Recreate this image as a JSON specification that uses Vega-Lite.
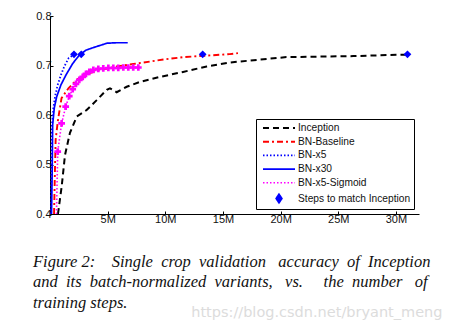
{
  "$schema": "https://vega.github.io/schema/vega-lite/v6.json",
  "width": 369,
  "height": 198,
  "autosize": {"type": "none"},
  "padding": {"left": 50, "top": 16, "right": 32, "bottom": 114},
  "background": "white",
  "title": {
    "text": ["Figure 2:\u00a0\u00a0\u00a0\u00a0Single\u00a0\u00a0crop\u00a0\u00a0validation\u00a0\u00a0\u00a0accuracy\u00a0\u00a0of\u00a0\u00a0Inception", "and\u00a0\u00a0its\u00a0\u00a0batch-normalized\u00a0\u00a0variants,\u00a0\u00a0\u00a0vs.\u00a0\u00a0\u00a0\u00a0\u00a0the\u00a0\u00a0number\u00a0\u00a0\u00a0of", "training steps."],
    "orient": "bottom",
    "anchor": "start",
    "frame": "group",
    "font": "Liberation Serif",
    "fontStyle": "italic",
    "fontWeight": "normal",
    "fontSize": 16.5,
    "lineHeight": 20.5,
    "color": "#111111",
    "dx": -17,
    "offset": -65
  },
  "datasets": {
    "curves": [
      {"series": "Inception", "x": 0.69, "y": 0.40},
      {"series": "Inception", "x": 1.01, "y": 0.455},
      {"series": "Inception", "x": 1.30, "y": 0.519},
      {"series": "Inception", "x": 1.73, "y": 0.564},
      {"series": "Inception", "x": 2.32, "y": 0.597},
      {"series": "Inception", "x": 3.18, "y": 0.610},
      {"series": "Inception", "x": 4.05, "y": 0.630},
      {"series": "Inception", "x": 4.92, "y": 0.651},
      {"series": "Inception", "x": 5.20, "y": 0.654},
      {"series": "Inception", "x": 5.78, "y": 0.646},
      {"series": "Inception", "x": 6.65, "y": 0.657},
      {"series": "Inception", "x": 7.81, "y": 0.667},
      {"series": "Inception", "x": 9.54, "y": 0.677},
      {"series": "Inception", "x": 11.54, "y": 0.687},
      {"series": "Inception", "x": 13.59, "y": 0.698},
      {"series": "Inception", "x": 15.61, "y": 0.706},
      {"series": "Inception", "x": 18.2, "y": 0.712},
      {"series": "Inception", "x": 20.5, "y": 0.717},
      {"series": "Inception", "x": 23.4, "y": 0.718},
      {"series": "Inception", "x": 26.3, "y": 0.719},
      {"series": "Inception", "x": 29.2, "y": 0.721},
      {"series": "Inception", "x": 31.0, "y": 0.722},
      {"series": "BN-Baseline", "x": 0.35, "y": 0.40},
      {"series": "BN-Baseline", "x": 0.43, "y": 0.489},
      {"series": "BN-Baseline", "x": 0.49, "y": 0.55},
      {"series": "BN-Baseline", "x": 0.67, "y": 0.586},
      {"series": "BN-Baseline", "x": 0.81, "y": 0.607},
      {"series": "BN-Baseline", "x": 1.0, "y": 0.634},
      {"series": "BN-Baseline", "x": 1.6, "y": 0.654},
      {"series": "BN-Baseline", "x": 2.32, "y": 0.671},
      {"series": "BN-Baseline", "x": 3.18, "y": 0.683},
      {"series": "BN-Baseline", "x": 4.34, "y": 0.691},
      {"series": "BN-Baseline", "x": 5.78, "y": 0.698},
      {"series": "BN-Baseline", "x": 7.23, "y": 0.703},
      {"series": "BN-Baseline", "x": 8.67, "y": 0.708},
      {"series": "BN-Baseline", "x": 9.83, "y": 0.712},
      {"series": "BN-Baseline", "x": 11.56, "y": 0.717},
      {"series": "BN-Baseline", "x": 13.59, "y": 0.720},
      {"series": "BN-Baseline", "x": 15.6, "y": 0.723},
      {"series": "BN-Baseline", "x": 16.3, "y": 0.725},
      {"series": "BN-x5", "x": 0.09, "y": 0.40},
      {"series": "BN-x5", "x": 0.13, "y": 0.489},
      {"series": "BN-x5", "x": 0.17, "y": 0.580},
      {"series": "BN-x5", "x": 0.29, "y": 0.614},
      {"series": "BN-x5", "x": 0.46, "y": 0.640},
      {"series": "BN-x5", "x": 0.67, "y": 0.661},
      {"series": "BN-x5", "x": 0.95, "y": 0.681},
      {"series": "BN-x5", "x": 1.24, "y": 0.698},
      {"series": "BN-x5", "x": 1.62, "y": 0.715},
      {"series": "BN-x5", "x": 2.08, "y": 0.722},
      {"series": "BN-x30", "x": 0.13, "y": 0.40},
      {"series": "BN-x30", "x": 0.19, "y": 0.489},
      {"series": "BN-x30", "x": 0.23, "y": 0.580},
      {"series": "BN-x30", "x": 0.37, "y": 0.614},
      {"series": "BN-x30", "x": 0.58, "y": 0.637},
      {"series": "BN-x30", "x": 0.95, "y": 0.661},
      {"series": "BN-x30", "x": 1.39, "y": 0.681},
      {"series": "BN-x30", "x": 1.97, "y": 0.704},
      {"series": "BN-x30", "x": 2.54, "y": 0.721},
      {"series": "BN-x30", "x": 3.12, "y": 0.731},
      {"series": "BN-x30", "x": 3.99, "y": 0.738},
      {"series": "BN-x30", "x": 4.68, "y": 0.743},
      {"series": "BN-x30", "x": 4.92, "y": 0.745},
      {"series": "BN-x30", "x": 5.78, "y": 0.746},
      {"series": "BN-x30", "x": 6.74, "y": 0.746},
      {"series": "BN-x5-Sigmoid", "x": 0.56, "y": 0.40},
      {"series": "BN-x5-Sigmoid", "x": 0.62, "y": 0.47},
      {"series": "BN-x5-Sigmoid", "x": 0.67, "y": 0.526},
      {"series": "BN-x5-Sigmoid", "x": 1.01, "y": 0.583},
      {"series": "BN-x5-Sigmoid", "x": 1.36, "y": 0.617},
      {"series": "BN-x5-Sigmoid", "x": 1.67, "y": 0.638},
      {"series": "BN-x5-Sigmoid", "x": 1.97, "y": 0.652},
      {"series": "BN-x5-Sigmoid", "x": 2.25, "y": 0.663},
      {"series": "BN-x5-Sigmoid", "x": 2.54, "y": 0.671},
      {"series": "BN-x5-Sigmoid", "x": 2.84, "y": 0.677},
      {"series": "BN-x5-Sigmoid", "x": 3.12, "y": 0.683},
      {"series": "BN-x5-Sigmoid", "x": 3.41, "y": 0.687},
      {"series": "BN-x5-Sigmoid", "x": 3.76, "y": 0.691},
      {"series": "BN-x5-Sigmoid", "x": 4.19, "y": 0.693},
      {"series": "BN-x5-Sigmoid", "x": 4.62, "y": 0.694},
      {"series": "BN-x5-Sigmoid", "x": 5.06, "y": 0.695},
      {"series": "BN-x5-Sigmoid", "x": 5.49, "y": 0.695},
      {"series": "BN-x5-Sigmoid", "x": 5.92, "y": 0.695},
      {"series": "BN-x5-Sigmoid", "x": 6.36, "y": 0.696},
      {"series": "BN-x5-Sigmoid", "x": 6.79, "y": 0.696},
      {"series": "BN-x5-Sigmoid", "x": 7.22, "y": 0.696},
      {"series": "BN-x5-Sigmoid", "x": 7.66, "y": 0.696}
    ],
    "match": [
      {"series": "Steps to match Inception", "x": 2.08, "y": 0.7225},
      {"series": "Steps to match Inception", "x": 2.71, "y": 0.7225},
      {"series": "Steps to match Inception", "x": 13.24, "y": 0.7225},
      {"series": "Steps to match Inception", "x": 31.0, "y": 0.7225}
    ]
  },
  "config": {
    "view": {"stroke": null},
    "axis": {
      "grid": false,
      "domainColor": "#000000",
      "domainWidth": 1,
      "tickColor": "#000000",
      "tickSize": -3,
      "labelFont": "Liberation Sans",
      "labelFontSize": 11,
      "labelColor": "#111111"
    },
    "legend": {
      "orient": "bottom-right",
      "offset": 5,
      "strokeColor": "#000000",
      "fillColor": "#ffffff",
      "padding": 3,
      "cornerRadius": 0,
      "labelFont": "Liberation Sans",
      "labelFontSize": 10.2,
      "labelColor": "#111111",
      "rowPadding": 1.7,
      "labelOffset": 27,
      "symbolStrokeWidth": 2,
      "symbolSize": 100
    }
  },
  "layer": [
    {
      "data": {"name": "curves"},
      "mark": {"type": "line", "clip": true},
      "encoding": {
        "x": {
          "field": "x", "type": "quantitative",
          "scale": {"domain": [0, 32], "nice": false},
          "axis": {
            "values": [5, 10, 15, 20, 25, 30],
            "labelExpr": "datum.value + 'M'",
            "labelPadding": 2,
            "title": "https://blog.csdn.net/bryant_meng",
            "titleFont": "DejaVu Sans",
            "titleFontSize": 14.5,
            "titleFontWeight": "normal",
            "titleColor": "#dcdcdc",
            "titleAlign": "right",
            "titleBaseline": "alphabetic",
            "titleX": 392,
            "titleY": 102
          }
        },
        "y": {
          "field": "y", "type": "quantitative",
          "scale": {"domain": [0.4, 0.8], "nice": false, "zero": false},
          "axis": {"values": [0.4, 0.5, 0.6, 0.7, 0.8], "format": ".1f", "title": null, "labelPadding": 2}
        },
        "color": {
          "field": "series", "type": "nominal",
          "scale": {
            "domain": ["Inception", "BN-Baseline", "BN-x5", "BN-x30", "BN-x5-Sigmoid", "Steps to match Inception"],
            "range": ["#000000", "#ff0000", "#0000ff", "#0000ff", "#ff00ff", "#0000ff"]
          },
          "legend": {
            "title": null,
            "encode": {
              "symbols": {
                "update": {
                  "shape": {"signal": "datum.value === 'Steps to match Inception' ? 'M2.8,-0.9L3.4,0L2.8,0.9L2.2,0Z' : 'M-0.4,0H6'"},
                  "size": {"value": 100},
                  "fill": {"signal": "datum.value === 'Steps to match Inception' ? '#0000ff' : 'transparent'"}
                }
              }
            }
          }
        },
        "strokeDash": {
          "field": "series", "type": "nominal",
          "scale": {
            "domain": ["Inception", "BN-Baseline", "BN-x5", "BN-x30", "BN-x5-Sigmoid", "Steps to match Inception"],
            "range": [[6, 4], [6, 3, 2, 3], [1.5, 2], [1, 0], [1.5, 2], [1, 0]]
          },
          "legend": {"title": null}
        },
        "strokeWidth": {
          "field": "series", "type": "nominal",
          "scale": {
            "domain": ["Inception", "BN-Baseline", "BN-x5", "BN-x30", "BN-x5-Sigmoid", "Steps to match Inception"],
            "range": [2, 1.5, 1.6, 2, 1.6, 2]
          },
          "legend": null
        }
      }
    },
    {
      "data": {"name": "curves"},
      "transform": [{"filter": "datum.series === 'BN-x5-Sigmoid' && datum.y > 0.5"}],
      "mark": {"type": "point", "shape": "cross", "filled": true, "color": "#ff00ff", "size": 45, "opacity": 1},
      "encoding": {
        "x": {"field": "x", "type": "quantitative"},
        "y": {"field": "y", "type": "quantitative"}
      }
    },
    {
      "data": {"name": "match"},
      "mark": {"type": "point", "shape": "diamond", "filled": true, "color": "#0000ff", "size": 60, "opacity": 1},
      "encoding": {
        "x": {"field": "x", "type": "quantitative"},
        "y": {"field": "y", "type": "quantitative"}
      }
    }
  ]
}
